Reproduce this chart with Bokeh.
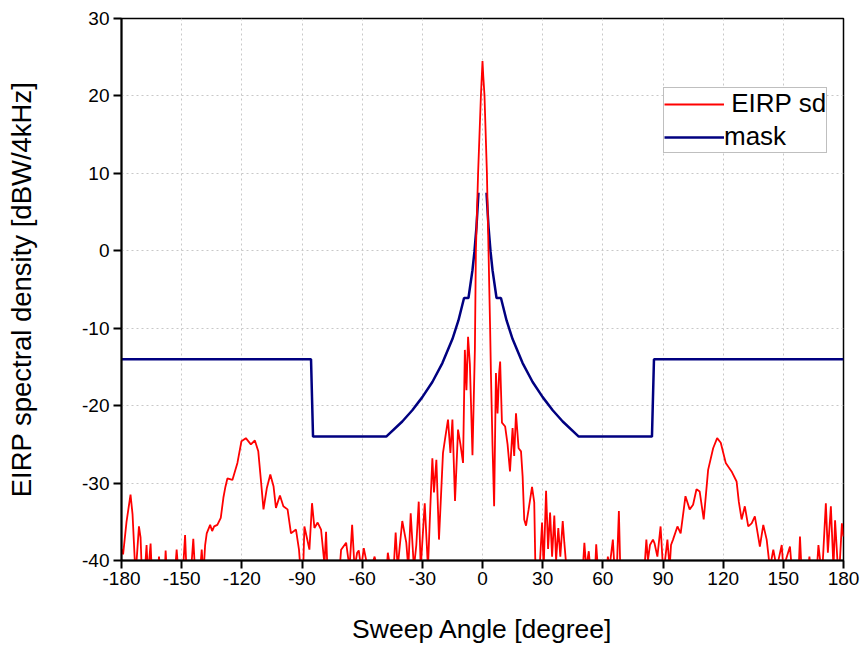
from bokeh.plotting import figure
from bokeh.models import Range1d, FixedTicker, Legend, LegendItem
from bokeh.embed import file_html
from bokeh.resources import INLINE

# ---- data ----
sweep_angle = [
    -180, -179.2, -177.5, -175.5, -174.5, -173, -171.3, -170.5, -169.8, -168.5, -167.5, -166.8,
    -165.5, -164.8, -162, -161.3, -160.5, -158.5, -158, -157.3, -153.5, -152.5, -151.5, -149.5,
    -148.3, -147.5, -145.5, -144.2, -143.2, -141, -140, -139.2, -138.3, -137.5, -135.8, -134.8,
    -133.8, -132.2, -130.5, -129.2, -128.2, -127.2, -124.7, -122.2, -120.2, -118, -115.5, -113.5,
    -111.8, -110.5, -109.2, -107.5, -105.8, -104.2, -103, -101, -99.3, -97.2, -95.5, -93, -91.5,
    -90.8, -89.5, -88.8, -87.7, -86.3, -85, -83.8, -82.2, -80.5, -78.8, -78, -77.2, -71.5, -70.5,
    -68, -66.3, -65, -63.8, -62.5, -61.7, -60.5, -59.2, -57.2, -55, -53.8, -52.5, -48, -47.2, -46,
    -44.5, -43.3, -42.3, -41.2, -40, -38, -37, -35.8, -34.2, -33, -31.8, -30.8, -28.8, -27.2, -26,
    -25, -24.2, -23, -21.7, -19.7, -18.5, -17.2, -16, -15, -13.7, -12.2, -11, -9.7, -8.8, -8, -7.2,
    -6.3, -5, -3.8, -3.3, -2.2, -0.8, 0, 0.4, 1, 2.2, 3, 3.8, 4.2, 5, 5.8, 6.7, 7.5, 8.3, 8.8, 9.7,
    11.3, 12.5, 13.7, 15, 15.8, 16.7, 18, 19.2, 20, 20.8, 21.7, 23, 24.7, 25.8, 26.3, 27.5, 28.7,
    29.7, 30.5, 31.7, 32.7, 33.7, 34.7, 35.8, 36.7, 37.8, 38.8, 40, 40.8, 41.7, 43, 49.8, 50.8,
    51.7, 53, 54, 56, 56.7, 57.5, 62, 62.5, 63.3, 65, 65.8, 67, 68, 68.7, 80.5, 81.7, 82.5, 83.5,
    85, 85.8, 87.2, 88.8, 90, 91, 92.2, 93.3, 94, 95, 97.2, 98.8, 101.2, 103.3, 105, 106.7, 108.3,
    110.3, 112.5, 115, 117, 118.8, 121.3, 124.2, 126.7, 127.8, 129.2, 130.8, 132.5, 134.2, 135.8,
    138.3, 140, 141.7, 143.3, 145, 146.7, 149.2, 150, 153.3, 154.2, 157.5, 158.3, 159.2, 162, 163,
    164, 166.5, 167.5, 168.8, 169.5, 171.2, 172.2, 173.7, 175, 175.8, 177.2, 178, 179.2, 180,
]
eirp_sd = [
    -38.5, -39.2, -35, -31.5, -34, -42, -35.6, -37, -42, -42, -38, -42,
    -37.8, -42, -42, -39.5, -42, -42, -38.7, -42, -42, -38.6, -42, -42,
    -36.7, -42, -42, -37.2, -42, -42, -38.6, -42, -38, -36.5, -35.4, -36.2,
    -35.6, -35.4, -34.5, -31.9, -30.5, -29.4, -29.6, -27.4, -24.6, -24.2, -25, -24.5,
    -25.9, -29.6, -33.4, -30.6, -28.9, -30.4, -33.2, -31.6, -33, -33.4, -36.5, -36, -38.6,
    -41, -42, -35.6, -36.9, -38.6, -32.6, -35.8, -35.1, -36, -40.5, -36.3, -42, -42, -38.6,
    -37.7, -41, -35.4, -41, -39, -38.7, -41, -38.4, -41, -40.5, -39.5, -41, -42, -39, -41,
    -42, -36.4, -41, -38, -34.9, -37.7, -41, -33.9, -41, -38, -32.4, -41, -32.6, -41, -33,
    -26.8, -31.2, -27, -37.3, -26.1, -24, -21.8, -26.1, -21.8, -32.3, -23.1, -25, -27.4, -12.8, -18, -11.1,
    -14.6, -26.4, -12.8, 0, 10, 20, 24.5, 22.5, 20, 10, 0, -10, -15.8, -25.2, -33, -15.8, -21, -15.8, -14.3, -22.2,
    -22.7, -25, -28.5, -22.9, -26.5, -21, -25.5, -25.9, -29.1, -34.7, -35.5, -33.4, -30.5, -32.5, -39.8, -42, -40,
    -35.1, -41, -31, -38.5, -33.8, -39.5, -34.2, -40, -35.8, -39.5, -34.9, -37.7, -40.5, -42, -42, -37.7,
    -41, -38.8, -42, -42, -37.9, -41, -41, -39.5, -41, -37.3, -41, -41, -33.6, -41, -42, -37.3, -40, -38,
    -37.3, -37.8, -39.5, -35.6, -41, -40, -37.3, -41, -38, -37.3, -35.6, -36.5, -31.7, -33.4, -32.8, -30.8, -31.1,
    -34.7, -28.3, -25.5, -24.2, -24.8, -27.4, -28.5, -29.8, -32.4, -34.7, -33, -35.6, -35.2, -34.3,
    -38.2, -35.4, -37.3, -41, -38.6, -41, -38, -41, -38.2, -41, -42, -36.9, -42, -42, -39.5,
    -42, -42, -38, -41, -41, -32.6, -39, -33, -41, -34.8, -41, -41, -35.2, -36.9,
]

# mask: left and right halves (the main-lobe top is not drawn)
mask_angle = [-180, -85.5, -84.5, -48, -40, -35, -30, -25, -20, -15, -12, -9.2, -7, -5, -4, -3, -2,
              float("nan"),
              2, 3, 4, 5, 7, 9.2, 12, 15, 20, 25, 30, 35, 40, 48, 84.5, 85.5, 180]
mask_value = [-14, -14, -24, -24, -22.05, -20.6, -18.9, -16.95, -14.5, -11.4, -9.0, -6.1, -6.1, -2.5, -0.05, 3.1, 7.5,
              float("nan"),
              7.5, 3.1, -0.05, -2.5, -6.1, -6.1, -9.0, -11.4, -14.5, -16.95, -18.9, -20.6, -22.05, -24, -24, -14, -14]

x_ticks = [-180, -150, -120, -90, -60, -30, 0, 30, 60, 90, 120, 150, 180]
y_ticks = [-40, -30, -20, -10, 0, 10, 20, 30]
x_tick_labels = ["-180", "-150", "-120", "-90", "-60", "-30", "0", "30", "60", "90", "120", "150", "180"]
y_tick_labels = ["-40", "-30", "-20", "-10", "0", "10", "20", "30"]

FONT = "Liberation Sans"

p = figure(width=862, height=647, output_backend="svg", toolbar_location=None,
           x_range=Range1d(-180, 180), y_range=Range1d(-40, 30),
           min_border_left=121, min_border_right=19, min_border_top=18, min_border_bottom=87,
           background_fill_color="white", border_fill_color="white")

mask = p.line(mask_angle, mask_value, line_color="#000080", line_width=2.5)
eirp = p.line(sweep_angle, eirp_sd, line_color="#ff0000", line_width=1.8)

p.xaxis.ticker = FixedTicker(ticks=x_ticks)
p.yaxis.ticker = FixedTicker(ticks=y_ticks)
p.xaxis.major_label_overrides = dict(zip(x_ticks, x_tick_labels))
p.yaxis.major_label_overrides = dict(zip(y_ticks, y_tick_labels))
for ax in (p.xaxis, p.yaxis):
    ax.axis_line_width = 2
    ax.axis_line_color = "black"
    ax.major_tick_line_width = 2
    ax.major_tick_line_color = "black"
    ax.major_tick_out = 8
    ax.major_tick_in = 0
    ax.minor_tick_out = 0
    ax.minor_tick_in = 0
    ax.major_label_text_font = FONT
    ax.major_label_text_font_size = "19px"
    ax.major_label_text_color = "black"
    ax.axis_label_text_font = FONT
    ax.axis_label_text_font_style = "normal"
    ax.axis_label_text_color = "black"

p.xaxis.axis_label = "Sweep Angle [degree]"
p.yaxis.axis_label = "EIRP spectral density [dBW/4kHz]"
p.xaxis.axis_label_text_font_size = "26.5px"
p.yaxis.axis_label_text_font_size = "27.5px"
p.xaxis.major_label_standoff = 3
p.yaxis.major_label_standoff = 4
p.xaxis.axis_label_standoff = 26
p.yaxis.axis_label_standoff = 42

p.xgrid.ticker = FixedTicker(ticks=x_ticks)
p.ygrid.ticker = FixedTicker(ticks=y_ticks)
for g in (p.xgrid, p.ygrid):
    g.grid_line_color = "#c8c8c8"
    g.grid_line_dash = "2 3"
    g.grid_line_width = 1

p.outline_line_color = "black"
p.outline_line_width = 1.5
p.outline_line_alpha = 1

legend = Legend(items=[LegendItem(label="\u00a0EIRP sd", renderers=[eirp]),
                       LegendItem(label="mask", renderers=[mask])],
                location=(542, 407), orientation="vertical")
legend.label_text_font = FONT
legend.label_text_font_size = "26px"
legend.label_text_color = "black"
legend.glyph_width = 60
legend.glyph_height = 20
legend.label_height = 20
legend.label_standoff = 0
legend.spacing = 2
legend.padding = 0
legend.margin = 0
legend.border_line_color = "#808080"
legend.border_line_width = 1
legend.background_fill_alpha = 1
p.add_layout(legend, "center")

open("out.html", "w").write(file_html(p, INLINE))
